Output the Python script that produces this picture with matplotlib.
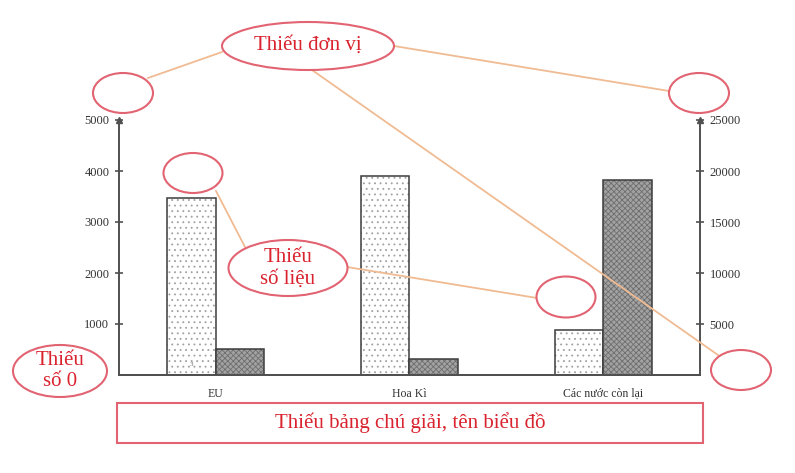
import numpy as np
import matplotlib.pyplot as plt
from matplotlib.patches import Ellipse, Rectangle

plt.rcParams['font.family'] = ['Liberation Serif', 'DejaVu Serif']
plt.rcParams['hatch.linewidth'] = 0.6

# data
categories = ['EU', 'Hoa Kì', 'Các nước còn lại']
left_values = [3470, 3900, 880]      # light dotted bars, left axis
right_values = [2550, 1570, 19100]   # dark bars, right axis
left_ticks = [1000, 2000, 3000, 4000, 5000]
right_ticks = [5000, 10000, 15000, 20000, 25000]

W, H = 795, 473
red = '#d9232e'
ring = '#e26472'
tan = '#f0bb92'
axis_col = '#505050'

fig = plt.figure(figsize=(W / 100, H / 100), dpi=100)

def px_rect(x0, y0, x1, y1):
    return [x0 / W, 1 - y1 / H, (x1 - x0) / W, (y1 - y0) / H]

ax = fig.add_axes(px_rect(119, 120, 700, 375))
ax2 = ax.twinx()

x = np.arange(len(categories))
w = 0.25
ax.bar(x - w / 2, left_values, w, color='white', edgecolor='#a0a0a0', hatch='...', linewidth=0)
ax.bar(x - w / 2, left_values, w, fill=False, edgecolor='#3c3c3c', linewidth=1.1)
ax2.bar(x + w / 2, right_values, w, color='#a2a2a2', edgecolor='#6e6e6e', hatch='xxxxxx', linewidth=0)
ax2.bar(x + w / 2, right_values, w, fill=False, edgecolor='#3c3c3c', linewidth=1.1)

ax.set_xlim(-0.5, 2.5)
ax.set_ylim(0, 5000)
ax2.set_ylim(0, 25000)
ax.set_yticks(left_ticks)
ax2.set_yticks(right_ticks)
ax.set_xticks(x)
ax.set_xticklabels(categories)
ax.tick_params(axis='x', length=0, pad=9, labelsize=8.5, labelcolor='#333333')
ax.tick_params(axis='y', direction='inout', length=6, width=1.2, color=axis_col,
               labelsize=9, labelcolor='#333333', pad=4)
ax2.tick_params(axis='y', direction='inout', length=6, width=1.2, color=axis_col,
                labelsize=9, labelcolor='#333333', pad=4)

for a in (ax, ax2):
    a.spines['top'].set_visible(False)
    for s in ('left', 'right', 'bottom'):
        a.spines[s].set_color(axis_col)
        a.spines[s].set_linewidth(1.4)
ax2.spines['left'].set_visible(False)
ax.spines['right'].set_visible(False)

# arrow heads at the top of both value axes
ax.plot([0, 1], [1, 1], '^', transform=ax.transAxes, clip_on=False,
        color=axis_col, markersize=5, zorder=5)
ax.text(x[0] - w / 2, 200, '3', fontsize=5, color='#666666', ha='center', va='center')

# overlay in pixel coordinates for the red remarks
ov = fig.add_axes([0, 0, 1, 1])
ov.set_xlim(0, W)
ov.set_ylim(H, 0)
ov.axis('off')
ov.patch.set_alpha(0)

lines = [
    [(222, 52), (148, 78)],
    [(394, 46), (669, 91)],
    [(312, 70), (718, 355)],
    [(216, 191), (245, 247)],
    [(347, 267), (537, 298)],
]
for (x0, y0), (x1, y1) in lines:
    ov.plot([x0, x1], [y0, y1], color=tan, lw=1.3, zorder=1)

ellipses = [
    (308, 46, 172, 48),
    (123, 93, 60, 40),
    (699, 93, 60, 40),
    (193, 173, 59, 40),
    (288, 268, 119, 56),
    (566, 297, 59, 41),
    (741, 370, 60, 40),
    (60, 371, 94, 52),
]
for cx, cy, ew, eh in ellipses:
    ov.add_patch(Ellipse((cx, cy), ew, eh, facecolor='white', edgecolor=ring, lw=1.5, zorder=2))

ov.add_patch(Rectangle((117, 403), 586, 40, facecolor='white', edgecolor=ring, lw=1.5, zorder=2))

ov.text(308, 45, 'Thiếu đơn vị', color=red, fontsize=15, ha='center', va='center', zorder=3)
ov.text(288, 268, 'Thiếu\nsố liệu', color=red, fontsize=15, ha='center', va='center',
        linespacing=1.2, zorder=3)
ov.text(60, 371, 'Thiếu\nsố 0', color=red, fontsize=15, ha='center', va='center',
        linespacing=1.2, zorder=3)
ov.text(410, 423, 'Thiếu bảng chú giải, tên biểu đồ', color=red, fontsize=15,
        ha='center', va='center', zorder=3)

fig.savefig('out.png', dpi=100)
